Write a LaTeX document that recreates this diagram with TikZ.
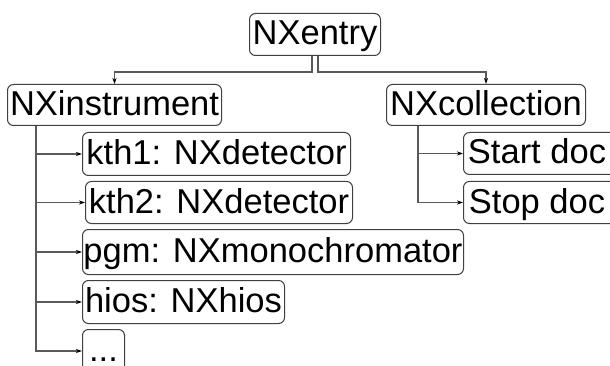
\documentclass[tikz,border=0pt]{standalone}
\usepackage{fontspec}
\setmainfont{Liberation Sans}
\usetikzlibrary{arrows.meta}
\tikzset{
  box/.style={draw=black!75, line width=1pt, rounded corners=6pt, anchor=north west,
    inner sep=0pt, text height=26pt, text depth=5pt, font=\fontsize{34.5}{38}\selectfont},
  conn/.style={draw=black!65, line width=1.2pt, -{Stealth[length=6pt,width=4pt,black]}},
}
\newcommand{\bx}[6]{\node[box, minimum width=#4-#2, minimum height=#5-#3] (#1) at (#2,#3) {#6};}
\begin{document}
\begin{tikzpicture}[x=1pt,y=-1pt]
\useasboundingbox (0,0) rectangle (610,366);
\clip (0,0) rectangle (610,366);
\bx{entry}{249}{13}{380}{55}{NXentry}
\bx{inst}{7}{84}{221}{125}{NXinstrument}
\bx{coll}{386}{84}{585}{125}{NXcollection}
\bx{kth1}{82}{132}{350}{175}{kth1: NXdetector}
\bx{kth2}{85}{181}{352}{223}{kth2: NXdetector}
\bx{pgm}{82}{229}{463}{274}{pgm: NXmonochromator}
\bx{hios}{82}{280}{284}{323}{hios: NXhios}
\bx{dots}{82}{329}{124}{372}{...}
\bx{start}{463}{132}{640}{174}{\hspace*{-30pt}Start doc}
\bx{stop}{463}{181}{640}{223}{\hspace*{-30pt}Stop doc}
\draw[conn] ([xshift=-3pt]entry.south) -- ++(0,16) -| (inst.north);
\draw[conn] ([xshift=3pt]entry.south) -- ++(0,16) -| (coll.north);
\foreach \n in {kth1,kth2,pgm,hios,dots}
  \draw[conn] ([xshift=29pt]inst.south west) |- (\n.west);
\draw[conn] ([xshift=32pt]coll.south west) |- (start.west);
\draw[conn] ([xshift=32pt]coll.south west) |- (stop.west);
\end{tikzpicture}
\end{document}
